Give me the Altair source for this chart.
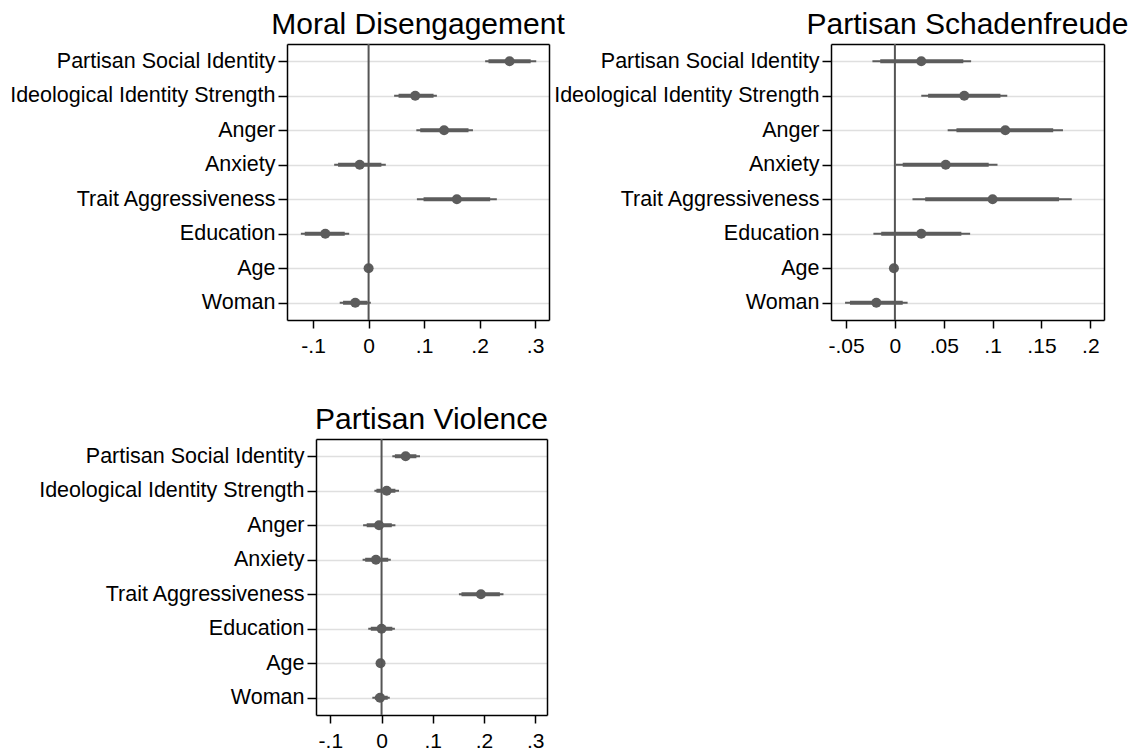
import altair as alt
import pandas as pd

variables = ["Partisan Social Identity", "Ideological Identity Strength", "Anger", "Anxiety",
             "Trait Aggressiveness", "Education", "Age", "Woman"]

# Moral Disengagement
md_coef = [0.254, 0.084, 0.136, -0.016, 0.159, -0.078, 0.000, -0.024]
md_lo95 = [0.210, 0.046, 0.086, -0.062, 0.087, -0.122, -0.002, -0.052]
md_hi95 = [0.302, 0.123, 0.188, 0.031, 0.231, -0.035, 0.002, 0.004]
md_lo90 = [0.216, 0.054, 0.093, -0.055, 0.099, -0.115, -0.001, -0.046]
md_hi90 = [0.292, 0.117, 0.180, 0.023, 0.219, -0.043, 0.001, -0.002]

# Partisan Schadenfreude
ps_coef = [0.027, 0.071, 0.113, 0.052, 0.100, 0.027, -0.001, -0.019]
ps_lo95 = [-0.023, 0.027, 0.054, 0.001, 0.018, -0.022, -0.002, -0.051]
ps_hi95 = [0.078, 0.115, 0.172, 0.105, 0.181, 0.077, 0.000, 0.013]
ps_lo90 = [-0.015, 0.034, 0.063, 0.008, 0.031, -0.014, -0.002, -0.046]
ps_hi90 = [0.070, 0.108, 0.162, 0.096, 0.168, 0.068, 0.000, 0.008]

# Partisan Violence
pv_coef = [0.047, 0.010, -0.005, -0.011, 0.194, 0.000, -0.002, -0.003]
pv_lo95 = [0.021, -0.014, -0.036, -0.037, 0.151, -0.026, -0.003, -0.018]
pv_hi95 = [0.075, 0.034, 0.027, 0.018, 0.238, 0.026, -0.001, 0.016]
pv_lo90 = [0.026, -0.010, -0.029, -0.032, 0.156, -0.021, -0.003, -0.013]
pv_hi90 = [0.068, 0.027, 0.020, 0.013, 0.231, 0.021, -0.001, 0.012]

md_ticks = [-0.1, 0, 0.1, 0.2, 0.3]
ps_ticks = [-0.05, 0, 0.05, 0.1, 0.15, 0.2]
pv_ticks = [-0.1, 0, 0.1, 0.2, 0.3]

FONT = "Liberation Sans"
MARK = "#5c5c5c"
LABEL_EXPR = ("datum.value == 0 ? '0' : (datum.value < 0 ? '-' : '') + "
              "replace(format(abs(datum.value), '.2~f'), '0.', '.')")


def panel(title, coef, lo95, hi95, lo90, hi90, domain, ticks, width, left_pad, height=276):
    df = pd.DataFrame({"var": variables, "coef": coef, "lo95": lo95, "hi95": hi95,
                       "lo90": lo90, "hi90": hi90})
    zero_df = pd.DataFrame({"zero": [0.0]})
    xscale = alt.Scale(domain=domain, range=[left_pad, width], nice=False, zero=False)
    yscale = alt.Scale(type="point", domain=variables, padding=0.5)

    x_bottom = alt.Axis(values=ticks, labelExpr=LABEL_EXPR, title=None, grid=False,
                        tickSize=8, labelPadding=7, domain=True,
                        labelFont=FONT, labelFontSize=21, labelColor="black")
    y_left = alt.Axis(title=None, grid=True, gridColor="#dfdfdf", gridWidth=1.5,
                      tickSize=9, labelPadding=3, offset=-left_pad, labelLimit=400,
                      domain=True, labelFont=FONT, labelFontSize=21.5, labelColor="black")
    x_top = alt.Axis(orient="top", labels=False, ticks=False, grid=False, title=None,
                     domain=True, minExtent=0, maxExtent=0)
    y_right = alt.Axis(orient="right", labels=False, ticks=False, grid=False, title=None,
                       domain=True, minExtent=0, maxExtent=0)

    base = alt.Chart(df)
    zero = alt.Chart(zero_df).mark_rule(color="#555555", strokeWidth=2).encode(
        x=alt.X("zero:Q", scale=xscale, axis=None))
    thin = base.mark_rule(color=MARK, strokeWidth=2).encode(
        x=alt.X("lo95:Q", scale=xscale, axis=None), x2="hi95:Q",
        y=alt.Y("var:N", scale=yscale, axis=None))
    thick = base.mark_rule(color=MARK, strokeWidth=4).encode(
        x=alt.X("lo90:Q", scale=xscale, axis=None), x2="hi90:Q",
        y=alt.Y("var:N", scale=yscale, axis=None))
    pts = base.mark_circle(color=MARK, size=100, opacity=1).encode(
        x=alt.X("coef:Q", scale=xscale, axis=x_bottom),
        y=alt.Y("var:N", scale=yscale, axis=y_left))
    frame = base.mark_point(opacity=0).encode(
        x=alt.X("coef:Q", scale=xscale, axis=x_top),
        y=alt.Y("var:N", scale=yscale, axis=y_right))

    return alt.layer(pts, zero, thin, thick, frame).resolve_axis(
        x="independent", y="independent").properties(
        width=width, height=height,
        title=alt.TitleParams(text=title, fontSize=30, font=FONT, fontWeight="normal",
                              color="black", anchor="middle", frame="group", offset=-21,
                              baseline="alphabetic", dx=left_pad / 2))


p1 = panel("Moral Disengagement", md_coef, md_lo95, md_hi95, md_lo90, md_hi90,
           [-0.147, 0.325], md_ticks, 262, 0)
p2 = panel("Partisan Schadenfreude", ps_coef, ps_lo95, ps_hi95, ps_lo90, ps_hi90,
           [-0.0654, 0.214], ps_ticks, 273, 0)
p3 = panel("Partisan Violence", pv_coef, pv_lo95, pv_hi95, pv_lo90, pv_hi90,
           [-0.128, 0.323], pv_ticks, 260, 29)

chart = alt.concat(p1, p2, p3, columns=2, spacing={"row": 119, "column": 271}).properties(
    bounds="flush", align="all", background="white",
    padding={"left": 9, "top": 9, "right": 5, "bottom": 0},
).configure_view(stroke="transparent").configure_axis(
    labelFont=FONT, labelFontSize=21, labelColor="black", tickColor="black",
    domainColor="black", tickWidth=1.5, domainWidth=1.5,
)

chart.save("out.html", embed_options={"renderer": "svg", "actions": False})
